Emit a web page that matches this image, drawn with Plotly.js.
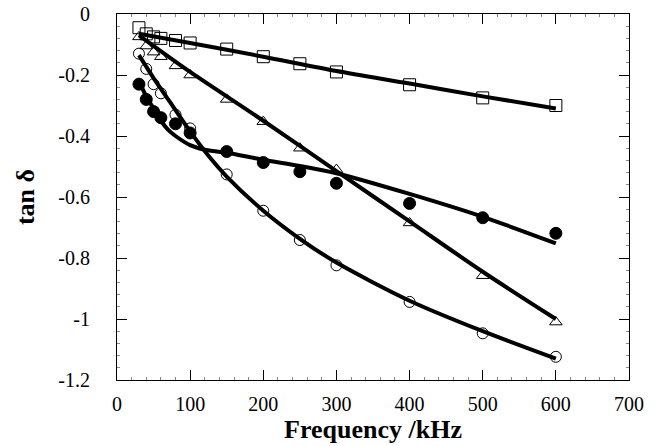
<!DOCTYPE html>
<html><head><meta charset="utf-8">
<script src="https://cdn.plot.ly/plotly-3.0.1.min.js"></script>
<style>html,body{margin:0;padding:0;background:#fff}</style>
</head><body><div id="chart" style="width:666px;height:446px"></div>
<script>
// measured frequencies (kHz)
const freq = [30, 40, 50, 60, 80, 100, 150, 200, 250, 300, 400, 500, 600];
// measured tan δ values
const squareVals   = [-0.045, -0.065, -0.075, -0.080, -0.087, -0.095, -0.115, -0.140, -0.163, -0.190, -0.232, -0.275, -0.300];
const triangleVals = [-0.075, -0.105, -0.125, -0.140, -0.170, -0.200, -0.280, -0.353, -0.440, -0.510, -0.685, -0.858, -1.010];
const filledVals   = [-0.230, -0.280, -0.320, -0.340, -0.360, -0.390, -0.451, -0.487, -0.517, -0.555, -0.621, -0.668, -0.719];
const openVals     = [-0.130, -0.180, -0.230, -0.260, -0.330, -0.375, -0.526, -0.645, -0.741, -0.824, -0.944, -1.047, -1.124];

// fitted curves
const squareFitX = [30, 100, 200, 300, 400, 500, 600];
const squareFitY = [-0.065, -0.095, -0.140, -0.187, -0.228, -0.270, -0.310];
const triangleFitX = [30, 100, 200, 300, 400, 500, 600];
const triangleFitY = [-0.070, -0.190, -0.350, -0.515, -0.680, -0.845, -1.000];
const filledFitX = [30, 40, 50, 60, 70, 80, 100, 120, 150, 200, 250, 300, 400, 500, 600];
const filledFitY = [-0.220, -0.270, -0.310, -0.350, -0.380, -0.400, -0.430, -0.445, -0.455, -0.478, -0.498, -0.522, -0.590, -0.665, -0.752];
const openFitX = [30, 50, 70, 100, 125, 150, 200, 250, 300, 400, 500, 600];
const openFitY = [-0.135, -0.210, -0.280, -0.385, -0.465, -0.533, -0.645, -0.737, -0.815, -0.940, -1.040, -1.130];

// tick labels
const xTickVals = [0, 100, 200, 300, 400, 500, 600, 700];
const xTickText = ['0', '100', '200', '300', '400', '500', '600', '700'];
const yTickVals = [0, -0.2, -0.4, -0.6, -0.8, -1, -1.2];
const yTickText = ['0', '-0.2', '-0.4', '-0.6', '-0.8', '-1', '-1.2'];

function pts(y, symbol, size) {
  return {x: freq, y: y, type: 'scatter', mode: 'markers', showlegend: false, hoverinfo: 'skip',
    marker: {symbol: symbol, size: size, color: '#000', line: {color: '#000', width: 1}}};
}
function fit(x, y) {
  return {x: x, y: y, type: 'scatter', mode: 'lines', showlegend: false, hoverinfo: 'skip',
    line: {color: '#000', width: 4, shape: 'spline', smoothing: 0.8}};
}

const data = [
  pts(squareVals, 'square-open', 12),
  pts(triangleVals, 'triangle-up-open', 11),
  pts(openVals, 'circle-open', 11),
  pts(filledVals, 'circle', 12),
  fit(squareFitX, squareFitY),
  fit(triangleFitX, triangleFitY),
  fit(filledFitX, filledFitY),
  fit(openFitX, openFitY)
];

const font = 'Liberation Serif, Times New Roman, serif';
const layout = {
  width: 666, height: 446,
  margin: {l: 117, r: 37, t: 14, b: 66},
  paper_bgcolor: '#fff', plot_bgcolor: '#fff',
  font: {family: font, color: '#000', size: 20},
  xaxis: {
    range: [0, 700], tickvals: xTickVals, ticktext: xTickText,
    ticks: 'inside', ticklen: 10, tickwidth: 1, tickcolor: '#000',
    minor: {ticks: 'inside', ticklen: 3, dtick: 20, tickcolor: '#888'},
    showline: true, linecolor: '#000', linewidth: 1, mirror: 'ticks',
    showgrid: false, zeroline: false,
    ticklabelstandoff: 6,
    tickfont: {family: font, size: 20},
    title: {text: 'Frequency /kHz', font: {family: font, size: 26, weight: 'bold'}, standoff: 0}
  },
  yaxis: {
    range: [-1.2, 0], tickvals: yTickVals, ticktext: yTickText,
    ticks: 'inside', ticklen: 10, tickwidth: 1, tickcolor: '#000',
    minor: {ticks: 'inside', ticklen: 3, dtick: 0.04, tickcolor: '#888'},
    showline: true, linecolor: '#000', linewidth: 1, mirror: 'ticks',
    showgrid: false, zeroline: false,
    ticklabelstandoff: 22,
    tickfont: {family: font, size: 20},
    title: {text: 'tan δ', font: {family: font, size: 26, weight: 'bold'}, standoff: 16}
  }
};

Plotly.newPlot('chart', data, layout, {displayModeBar: false, staticPlot: true});
</script>
</body></html>
